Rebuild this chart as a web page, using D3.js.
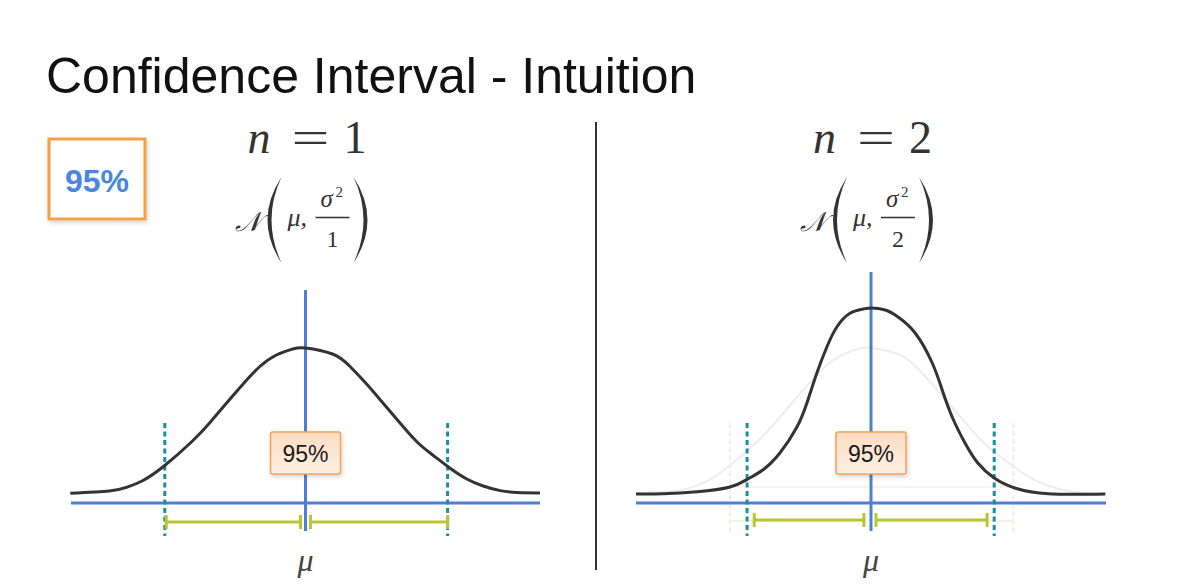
<!DOCTYPE html>
<html>
<head>
<meta charset="utf-8">
<script src="https://cdn.jsdelivr.net/npm/d3@7"></script>
<style>
  html, body { margin: 0; padding: 0; background: #fff; }
  svg { display: block; }
</style>
</head>
<body>
<svg id="chart" width="1188" height="588"></svg>
<script>
// ---------------- data ----------------
const titleText = "Confidence Interval - Intuition";
const panelLabels = ["n = 1", "n = 2"];
const sampleSizes = ["1", "2"];
const pctLabel = "95%";
const meanLabel = "μ";

// density curve for n = 1 (x in σ units, relative height)
const curveN1X = [-3.31, -2.76, -2.52, -2.30, -1.99, -1.59, -1.35, -1.11, -0.89, -0.65, -0.41, -0.18, 0,
                  0.38, 0.62, 0.86, 1.09, 1.33, 1.57, 1.79, 2.03, 2.27, 2.50, 2.74, 2.98, 3.30];
const curveN1Y = [0.049, 0.06, 0.078, 0.11, 0.185, 0.31, 0.40, 0.50, 0.59, 0.68, 0.74, 0.77, 0.775,
                  0.745, 0.685, 0.595, 0.50, 0.40, 0.305, 0.24, 0.175, 0.12, 0.085, 0.062, 0.052, 0.05];
// density curve for n = 2
const curveN2X = [-3.30, -2.92, -2.44, -1.98, -1.74, -1.52, -1.28, -1.04, -0.90, -0.76, -0.62, -0.48, -0.29, -0.11, 0,
                  0.20, 0.38, 0.62, 0.86, 1.00, 1.14, 1.32, 1.50, 1.73, 2.02, 2.49, 3.29];
const curveN2Y = [0.045, 0.046, 0.056, 0.08, 0.118, 0.165, 0.25, 0.38, 0.50, 0.65, 0.78, 0.88, 0.95, 0.97, 0.975,
                  0.965, 0.93, 0.85, 0.70, 0.565, 0.43, 0.30, 0.20, 0.125, 0.075, 0.046, 0.045];
// interval bounds (dashed lines)
const boundsN1 = [-1.98, 2.0];
const boundsN2 = [-1.74, 1.73];
// interval bars (left half, right half)
const barsN1 = [[-1.96, -0.07], [0.07, 2.0]];
const barsN2 = [[-1.64, -0.10], [0.07, 1.63]];

// ---------------- drawing ----------------
const svg = d3.select("#chart");
const defs = svg.append("defs");
const sh = defs.append("filter").attr("id", "shadow").attr("x", "-20%").attr("y", "-20%").attr("width", "150%").attr("height", "150%");
sh.append("feDropShadow").attr("dx", 1).attr("dy", 2).attr("stdDeviation", 2).attr("flood-color", "#000").attr("flood-opacity", 0.18);
const grad = defs.append("linearGradient").attr("id", "peach").attr("x1", 0).attr("y1", 0).attr("x2", 0).attr("y2", 1);
grad.append("stop").attr("offset", "0%").attr("stop-color", "#fcdcc2");
grad.append("stop").attr("offset", "100%").attr("stop-color", "#fff0e4");

const BLUE = "#4c80d8", TEAL = "#168fa3", GREEN = "#b6c634", CURVE = "#333333";
const SERIF = "'Liberation Serif', 'DejaVu Serif', serif";
const SANS = "'Liberation Sans', Arial, Helvetica, sans-serif";

// title
svg.append("text").attr("x", 46).attr("y", 93)
  .attr("font-family", SANS).attr("font-size", 50).attr("fill", "#111")
  .text(titleText);

// top-left 95% box
svg.append("rect").attr("x", 49).attr("y", 139).attr("width", 96).attr("height", 80)
  .attr("fill", "#fff").attr("stroke", "#f3a343").attr("stroke-width", 3)
  .attr("filter", "url(#shadow)");
svg.append("text").attr("x", 97).attr("y", 192).attr("text-anchor", "middle")
  .attr("font-family", SANS).attr("font-weight", "bold").attr("font-size", 32)
  .attr("fill", "#4a86e0").text(pctLabel);

// divider
svg.append("line").attr("x1", 596).attr("x2", 596).attr("y1", 122).attr("y2", 570)
  .attr("stroke", "#333").attr("stroke-width", 2);

const y = d3.scaleLinear().domain([0, 1]).range([503, 303]);

const panelsCfg = [
  { range: [71, 540], cx: 305.5, curveX: curveN1X, curveY: curveN1Y, bounds: boundsN1, bars: barsN1, barY: 522, vTop: 290, ghost: false },
  { range: [636, 1106], cx: 871, curveX: curveN2X, curveY: curveN2Y, bounds: boundsN2, bars: barsN2, barY: 520, vTop: 272, ghost: true }
];

panelsCfg.forEach((p, i) => {
  const x = d3.scaleLinear().domain([-3.3, 3.3]).range(p.range);
  const g = svg.append("g");
  const line = d3.line().x(d => x(d[0])).y(d => y(d[1])).curve(d3.curveNatural);

  // ghost of n = 1 in the second panel
  if (p.ghost) {
    g.append("path").datum(d3.zip(curveN1X, curveN1Y)).attr("d", line)
      .attr("fill", "none").attr("stroke", "#ededed").attr("stroke-width", 2);
    g.append("line").attr("x1", x(boundsN1[0])).attr("x2", x(boundsN1[1]))
      .attr("y1", y(0.08)).attr("y2", y(0.08)).attr("stroke", "#f7efe6").attr("stroke-width", 1.5);
    boundsN1.forEach(b => {
      g.append("line").attr("x1", x(b)).attr("x2", x(b)).attr("y1", 423).attr("y2", 535)
        .attr("stroke", "#e6f0f2").attr("stroke-width", 2).attr("stroke-dasharray", "5,3");
    });
    barsN1.forEach(b => {
      g.append("line").attr("x1", x(b[0])).attr("x2", x(b[1])).attr("y1", 521).attr("y2", 521)
        .attr("stroke", "#f0f4dc").attr("stroke-width", 2);
    });
  }

  // horizontal axis
  g.append("line").attr("x1", p.range[0]).attr("x2", p.range[1])
    .attr("y1", y(0)).attr("y2", y(0)).attr("stroke", BLUE).attr("stroke-width", 3);

  // dashed interval bounds
  p.bounds.forEach(b => {
    g.append("line").attr("x1", x(b)).attr("x2", x(b)).attr("y1", 423).attr("y2", 536)
      .attr("stroke", TEAL).attr("stroke-width", 3).attr("stroke-dasharray", "5,3.5");
  });

  // interval bars
  p.bars.forEach(b => {
    const bg = g.append("g").attr("stroke", GREEN).attr("stroke-width", 3);
    bg.append("line").attr("x1", x(b[0])).attr("x2", x(b[1])).attr("y1", p.barY).attr("y2", p.barY);
    [b[0], b[1]].forEach(v => {
      bg.append("line").attr("x1", x(v)).attr("x2", x(v)).attr("y1", p.barY - 7).attr("y2", p.barY + 7);
    });
  });

  // vertical mean line
  g.append("line").attr("x1", x(0)).attr("x2", x(0)).attr("y1", p.vTop).attr("y2", 531)
    .attr("stroke", BLUE).attr("stroke-width", 3);

  // density curve
  g.append("path").datum(d3.zip(p.curveX, p.curveY)).attr("d", line)
    .attr("fill", "none").attr("stroke", CURVE).attr("stroke-width", 3);

  // 95% box
  const bx = x(0);
  g.append("rect").attr("x", bx - 35).attr("y", 432).attr("width", 70).attr("height", 42).attr("rx", 2)
    .attr("fill", "url(#peach)").attr("stroke", "#f0a25a").attr("stroke-width", 1.5)
    .attr("filter", "url(#shadow)");
  g.append("text").attr("x", bx).attr("y", 462).attr("text-anchor", "middle")
    .attr("font-family", SANS).attr("font-size", 23).attr("fill", "#1a1a1a").text(pctLabel);

  // μ label
  g.append("text").attr("x", bx).attr("y", 571).attr("text-anchor", "middle")
    .attr("font-family", SERIF).attr("font-style", "italic").attr("font-size", 32).attr("fill", "#444").text(meanLabel);

  // heading "n = k"
  const cx = p.cx;
  const h = g.append("g").attr("fill", "#333").attr("font-family", SERIF).attr("font-size", 46);
  h.append("text").attr("x", cx - 58).attr("y", 153).attr("font-style", "italic").text("n");
  h.append("text").attr("x", cx - 14).attr("y", 153).attr("textLength", 38).attr("lengthAdjust", "spacingAndGlyphs").text("=");
  h.append("text").attr("x", cx + 38).attr("y", 153).text(sampleSizes[i]);

  // distribution N(μ, σ²/k)
  const f = g.append("g").attr("fill", "#333").attr("font-family", SERIF);
  f.append("text").attr("x", cx - 71).attr("y", 231).attr("font-style", "italic").attr("font-size", 27).text("𝒩");
  f.append("path").attr("d", `M${cx - 24},177 Q${cx - 52},220 ${cx - 24},263 Q${cx - 44},220 ${cx - 24},177 Z`);
  f.append("path").attr("d", `M${cx + 48},177 Q${cx + 76},220 ${cx + 48},263 Q${cx + 68},220 ${cx + 48},177 Z`);
  f.append("text").attr("x", cx - 18).attr("y", 226).attr("font-style", "italic").attr("font-size", 26).text("μ,");
  f.append("text").attr("x", cx + 15).attr("y", 207).attr("font-style", "italic").attr("font-size", 25).text("σ");
  f.append("text").attr("x", cx + 30).attr("y", 197).attr("font-size", 15).text("2");
  f.append("line").attr("x1", cx + 10).attr("x2", cx + 44).attr("y1", 217.5).attr("y2", 217.5)
    .attr("stroke", "#333").attr("stroke-width", 1.4);
  f.append("text").attr("x", cx + 27).attr("y", 247).attr("text-anchor", "middle").attr("font-size", 24).text(sampleSizes[i]);
});
</script>
</body>
</html>
